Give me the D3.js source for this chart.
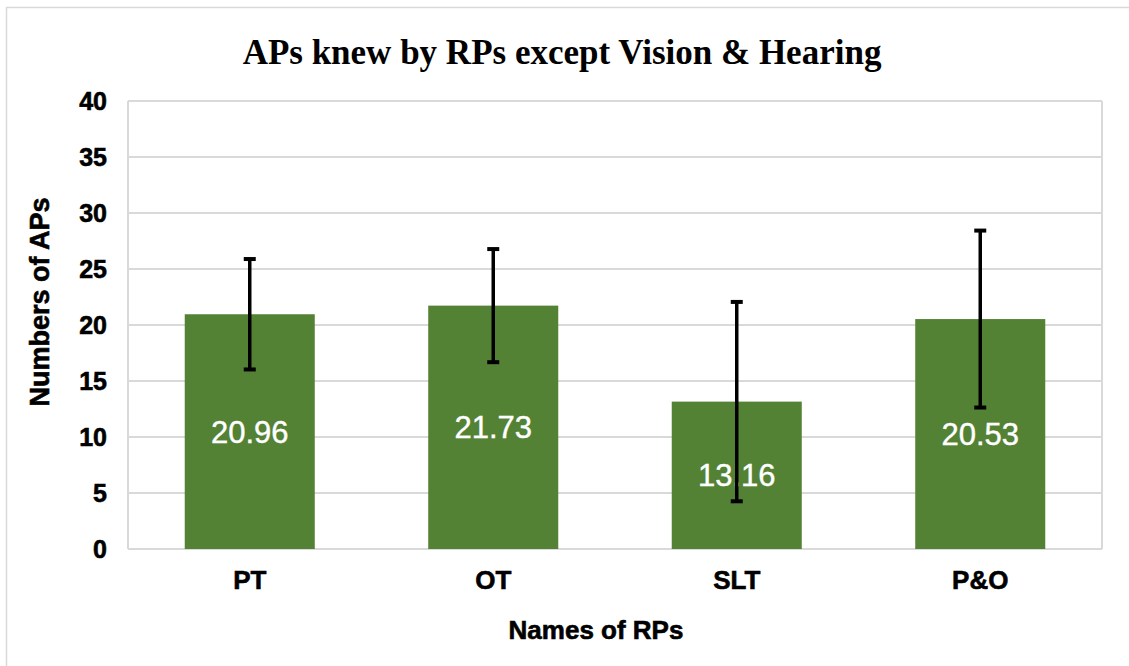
<!DOCTYPE html>
<html lang="en">
<head>
    <meta charset="UTF-8">
    <title>APs knew by RPs except Vision & Hearing</title>
    <script src="https://d3js.org/d3.v7.min.js"></script>
    <style>
        body { margin: 0; background: #fff; }
        .tick-label {
            font-family: "Liberation Sans", Arial, sans-serif;
            font-weight: bold;
            stroke: #000;
            stroke-width: 0.6px;
        }
    </style>
</head>
<body>
    <div id="chart"></div>
    <script>
        // data
        const categories = ["PT", "OT", "SLT", "P&O"];
        const means = [20.96, 21.73, 13.16, 20.53];
        const errors = [4.93, 5.05, 8.9, 7.9];
        const yTicks = [0, 5, 10, 15, 20, 25, 30, 35, 40];

        const W = 1129, H = 666;
        const margin = { top: 101, right: 27, bottom: 117, left: 128 };
        const width = W - margin.left - margin.right;
        const height = H - margin.top - margin.bottom;

        const svg = d3.select("#chart")
            .append("svg")
            .attr("width", W)
            .attr("height", H);

        // outer chart border (only top/left visible in the picture)
        svg.append("rect")
            .attr("x", 6.5).attr("y", 7.5)
            .attr("width", W + 20).attr("height", H + 20)
            .attr("fill", "none")
            .attr("stroke", "#d9d9d9")
            .attr("stroke-width", 1.5);

        const g = svg.append("g")
            .attr("transform", "translate(" + margin.left + "," + margin.top + ")");

        const x = d3.scaleBand()
            .domain(categories)
            .range([0, width])
            .paddingInner(0.466)
            .paddingOuter(0.233);

        const y = d3.scaleLinear()
            .domain([0, 40])
            .range([height, 0]);

        // gridlines
        g.selectAll(".grid")
            .data(yTicks)
            .enter()
            .append("line")
            .attr("x1", 0).attr("x2", width)
            .attr("y1", d => y(d)).attr("y2", d => y(d))
            .attr("stroke", "#d9d9d9")
            .attr("stroke-width", 2);

        // plot area side borders
        g.append("line")
            .attr("x1", 0).attr("x2", 0)
            .attr("y1", 0).attr("y2", height)
            .attr("stroke", "#d9d9d9").attr("stroke-width", 2);
        g.append("line")
            .attr("x1", width).attr("x2", width)
            .attr("y1", 0).attr("y2", height)
            .attr("stroke", "#d9d9d9").attr("stroke-width", 2);

        // bars
        g.selectAll(".bar")
            .data(categories)
            .enter()
            .append("rect")
            .attr("x", d => x(d))
            .attr("y", (d, i) => y(means[i]))
            .attr("width", x.bandwidth())
            .attr("height", (d, i) => height - y(means[i]))
            .attr("fill", "#548235");

        // value labels in the middle of each bar
        g.selectAll(".value")
            .data(categories)
            .enter()
            .append("text")
            .attr("x", d => x(d) + x.bandwidth() / 2)
            .attr("y", (d, i) => (y(means[i]) + height) / 2)
            .attr("dy", "0.36em")
            .attr("text-anchor", "middle")
            .attr("fill", "#fff")
            .attr("stroke", "#fff")
            .attr("stroke-width", 0.4)
            .style("font-family", "'Liberation Sans', Arial, sans-serif")
            .style("font-size", "31px")
            .text((d, i) => means[i].toFixed(2));

        // error bars
        const eb = g.selectAll(".err")
            .data(categories)
            .enter()
            .append("g")
            .attr("stroke", "#000");
        eb.append("line")
            .attr("stroke-width", 3.5)
            .attr("x1", d => x(d) + x.bandwidth() / 2)
            .attr("x2", d => x(d) + x.bandwidth() / 2)
            .attr("y1", (d, i) => y(means[i] + errors[i]))
            .attr("y2", (d, i) => y(means[i] - errors[i]));
        eb.append("line")
            .attr("stroke-width", 4)
            .attr("x1", d => x(d) + x.bandwidth() / 2 - 6)
            .attr("x2", d => x(d) + x.bandwidth() / 2 + 6)
            .attr("y1", (d, i) => y(means[i] + errors[i]))
            .attr("y2", (d, i) => y(means[i] + errors[i]));
        eb.append("line")
            .attr("stroke-width", 4)
            .attr("x1", d => x(d) + x.bandwidth() / 2 - 6)
            .attr("x2", d => x(d) + x.bandwidth() / 2 + 6)
            .attr("y1", (d, i) => y(means[i] - errors[i]))
            .attr("y2", (d, i) => y(means[i] - errors[i]));

        // y axis
        const yAxis = g.append("g")
            .call(d3.axisLeft(y).tickValues(yTicks).tickSize(0).tickPadding(21));
        yAxis.select(".domain").remove();
        yAxis.selectAll("text")
            .attr("class", "tick-label")
            .attr("fill", "#000")
            .style("font-size", "25px");

        // x axis
        const xAxis = g.append("g")
            .attr("transform", "translate(0," + height + ")")
            .call(d3.axisBottom(x).tickSize(0).tickPadding(22));
        xAxis.select(".domain").remove();
        xAxis.selectAll("text")
            .attr("class", "tick-label")
            .attr("fill", "#000")
            .style("font-size", "26px");

        // axis titles
        svg.append("text")
            .attr("x", 596)
            .attr("y", 639)
            .attr("text-anchor", "middle")
            .attr("class", "tick-label")
            .style("font-size", "26px")
            .text("Names of RPs");

        svg.append("text")
            .attr("transform", "translate(49,302) rotate(-90)")
            .attr("text-anchor", "middle")
            .attr("class", "tick-label")
            .style("font-size", "27px")
            .text("Numbers of APs");

        // title
        svg.append("text")
            .attr("x", 562)
            .attr("y", 64)
            .attr("text-anchor", "middle")
            .style("font-family", "'Liberation Serif', 'Times New Roman', serif")
            .style("font-weight", "bold")
            .style("font-size", "35px")
            .text("APs knew by RPs except Vision & Hearing");
    </script>
</body>
</html>
